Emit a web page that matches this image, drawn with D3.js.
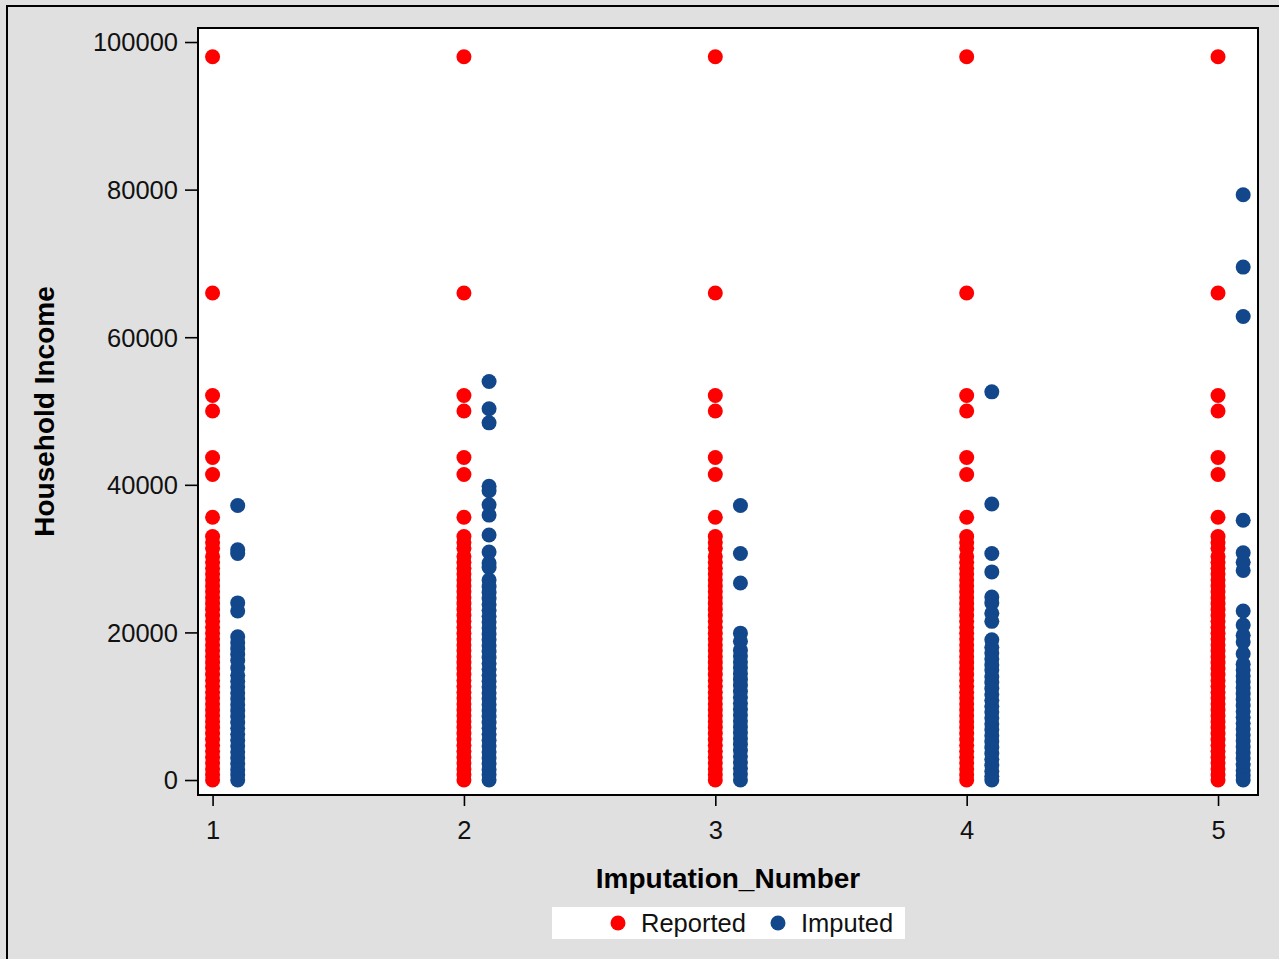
<!DOCTYPE html>
<html>
<head>
<meta charset="utf-8">
<script src="https://cdn.jsdelivr.net/npm/d3@7"></script>
<style>
  body { margin: 0; background: #e0e0e0; }
  svg { display: block; font-family: "Liberation Sans", Arial, sans-serif; }
</style>
</head>
<body>
<svg width="1279" height="959"></svg>
<script>
// values
var imputations = [1, 2, 3, 4, 5];
var yTicks = [0, 20000, 40000, 60000, 80000, 100000];

// reported incomes are the same in every imputation
var reported = [98000, 66000, 52100, 50000, 43700, 41400, 35600, 33000, 32200, 31400, 30300,
  29500, 28700, 27900, 27100, 26300, 25500, 24700, 23900, 23100, 22300, 21500, 20700, 19900,
  19100, 18300, 17500, 16700, 15900, 15100, 14300, 13500, 12700, 11900, 11100, 10300, 9500,
  8700, 7900, 7100, 6300, 5500, 4700, 3900, 3100, 2300, 1500, 700, 0];

var imputed1 = [37200, 31200, 30700, 24000, 22900, 19400, 18600, 17800, 17000, 16200, 15200,
  14200, 13400, 12600, 11800, 11000, 10200, 9400, 8600, 7800, 7000, 6200, 5400, 4600, 3800,
  3000, 2200, 1400, 700, 0];
var imputed2 = [54000, 50300, 48400, 39800, 39200, 37300, 35900, 33200, 30900, 29400, 28800,
  27100, 26200, 25400, 24600, 23800, 23000, 22200, 21400, 20600, 19800, 19000, 18200, 17400,
  16600, 15800, 15000, 14200, 13400, 12600, 11800, 11000, 10200, 9400, 8600, 7800, 7000, 6200,
  5400, 4600, 3800, 3000, 2200, 1400, 700, 0];
var imputed3 = [37200, 30700, 26700, 19900, 18800, 17600, 16800, 16000, 15200, 14400, 13600,
  12800, 12000, 11200, 10400, 9600, 8800, 8000, 7200, 6400, 5600, 4800, 4000, 3200, 2400, 1600,
  800, 0];
var imputed4 = [52600, 37400, 30700, 28200, 24800, 24000, 22600, 21500, 19000, 18000, 17200,
  16400, 15600, 14900, 14000, 13200, 12400, 11600, 10800, 10000, 9200, 8400, 7600, 6800, 6000,
  5200, 4400, 3600, 2800, 2000, 1200, 500, 0];
var imputed5 = [79300, 69500, 62800, 35200, 30800, 29500, 28400, 22900, 21000, 19600, 18700,
  17100, 15700, 14900, 14100, 13300, 12500, 11700, 10900, 10100, 9300, 8500, 7700, 6900, 6100,
  5300, 4500, 3700, 2900, 2100, 1300, 600, 0];

var imputedBy = [imputed1, imputed2, imputed3, imputed4, imputed5];

var groups = [
  {id: "Reported", color: "#ff0000", offset: 0},
  {id: "Imputed", color: "#13478b", offset: 0.1}
];

var points = [];
imputations.forEach(function(n, i) {
  reported.forEach(function(v) { points.push({group: groups[0], num: n, income: v}); });
  imputedBy[i].forEach(function(v) { points.push({group: groups[1], num: n, income: v}); });
});

var svg = d3.select("svg"),
    margin = {top: 28, left: 198},
    width = 1060,
    height = 767,
    g = svg.append("g").attr("transform", "translate(" + margin.left + "," + margin.top + ")");

// outer frame (only top and left edges show)
svg.append("path")
    .attr("d", "M7,959V6H1279")
    .attr("fill", "none")
    .attr("stroke", "#000")
    .attr("stroke-width", 2);

var x = d3.scaleLinear().domain([0.942, 5.159]).range([0, width]),
    y = d3.scaleLinear().domain([-2030, 101900]).range([height, 0]);

g.append("rect")
    .attr("width", width)
    .attr("height", height)
    .attr("fill", "#fff");

var xAxis = g.append("g")
    .attr("transform", "translate(0," + height + ")")
    .call(d3.axisBottom(x).tickValues(imputations).tickFormat(d3.format("d")).tickSize(11).tickSizeOuter(0));

var yAxis = g.append("g")
    .call(d3.axisLeft(y).tickValues(yTicks).tickFormat(d3.format("d")).tickSize(13).tickSizeOuter(0));

[xAxis, yAxis].forEach(function(a) {
  a.select(".domain").remove();
  a.selectAll("line").attr("stroke", "#000").attr("stroke-width", 1.6);
  a.selectAll("text")
      .attr("fill", "#111")
      .style("font-size", "25.5px")
      .style("font-family", "'Liberation Sans', Arial, sans-serif");
});
xAxis.selectAll("text").attr("dy", null).attr("y", 44);
yAxis.selectAll("text").attr("x", -20).attr("dy", "0.35em");

g.selectAll(".dot")
    .data(points)
    .enter().append("circle")
    .attr("class", "dot")
    .attr("cx", function(d) { return x(d.num + d.group.offset); })
    .attr("cy", function(d) { return y(d.income); })
    .attr("r", 7.5)
    .attr("fill", function(d) { return d.group.color; });

g.append("rect")
    .attr("width", width)
    .attr("height", height)
    .attr("fill", "none")
    .attr("stroke", "#000")
    .attr("stroke-width", 2);

svg.append("text")
    .attr("x", margin.left + width / 2)
    .attr("y", 888)
    .attr("text-anchor", "middle")
    .style("font-size", "28px")
    .style("font-weight", "bold")
    .text("Imputation_Number");

svg.append("text")
    .attr("transform", "translate(54," + (margin.top + height / 2) + ") rotate(-90)")
    .attr("text-anchor", "middle")
    .style("font-size", "28px")
    .style("font-weight", "bold")
    .text("Household Income");

// legend
var legend = svg.append("g").attr("transform", "translate(552,907)");
legend.append("rect")
    .attr("width", 353)
    .attr("height", 32)
    .attr("fill", "#fff");

var item = legend.selectAll(".item")
    .data(groups)
    .enter().append("g")
    .attr("class", "item")
    .attr("transform", function(d, i) { return "translate(" + [66, 226][i] + ",16)"; });

item.append("circle")
    .attr("r", 7.5)
    .attr("fill", function(d) { return d.color; });

item.append("text")
    .attr("x", 23)
    .attr("y", 8.5)
    .attr("fill", "#111")
    .style("font-size", "25.5px")
    .text(function(d) { return d.id; });
</script>
</body>
</html>
